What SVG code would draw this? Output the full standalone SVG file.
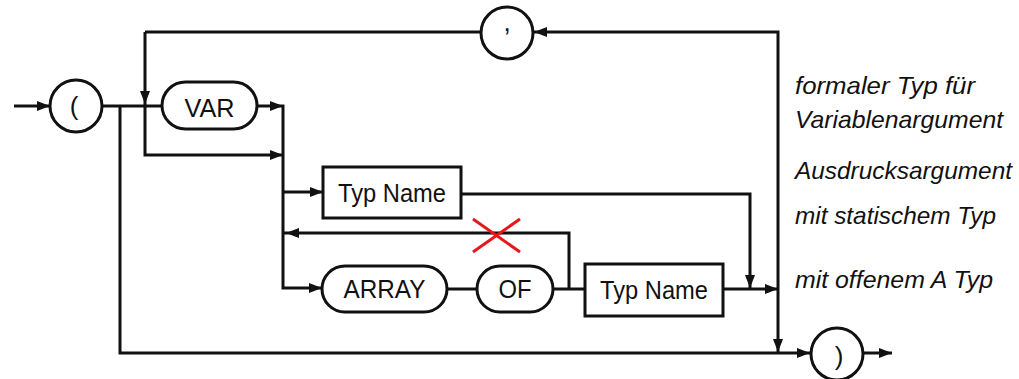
<svg xmlns="http://www.w3.org/2000/svg" xmlns:xlink="http://www.w3.org/1999/xlink" width="1019" height="379" viewBox="0 0 1019 379">
  <style>
    .ln { fill: none; stroke: #111; stroke-width: 3; }
    .shape { fill: #fff; stroke: #111; stroke-width: 3; }
    .lbl { font-family: "Liberation Sans", Arial, sans-serif; font-size: 26px; fill: #111; text-anchor: middle; }
    .sym { font-family: "Liberation Sans", Arial, sans-serif; font-size: 26px; fill: #111; text-anchor: middle; }
    .note { font-family: "Liberation Sans", Arial, sans-serif; font-style: italic; font-size: 24px; fill: #111; }
    .ah { fill: #111; }
    .cross { stroke: #e8161b; stroke-width: 3; fill: none; }
  </style>
  <defs>
    <!-- arrowhead pointing right, tip at origin -->
    <path id="ah" class="ah" d="M0,0 L-13,-5 L-13,5 Z"/>
  </defs>
  <rect width="1019" height="379" fill="#fff"/>

  <g id="connectors">
    <path class="ln" d="M14,106 H50"/>
    <path class="ln" d="M102,106 H162"/>
    <path class="ln" d="M120,106 V353 H810"/>
    <path class="ln" d="M257,106 H283 V288 H322"/>
    <path class="ln" d="M145,32 V155 H283"/>
    <path class="ln" d="M283,192 H323"/>
    <path class="ln" d="M461,194 H750 V288"/>
    <path class="ln" d="M447,289 H477"/>
    <path class="ln" d="M553,289 H585"/>
    <path class="ln" d="M569,289 V233 H283"/>
    <path class="ln" d="M723,289 H778"/>
    <path class="ln" d="M778,353 V32 H534"/>
    <path class="ln" d="M480,32 H145"/>
    <path class="ln" d="M863,353 H892"/>
    <use xlink:href="#ah" transform="translate(50,106)"/>
    <use xlink:href="#ah" transform="translate(145,104) rotate(90)"/>
    <use xlink:href="#ah" transform="translate(283,106)"/>
    <use xlink:href="#ah" transform="translate(283,155)"/>
    <use xlink:href="#ah" transform="translate(323,192)"/>
    <use xlink:href="#ah" transform="translate(286,233) rotate(180)"/>
    <use xlink:href="#ah" transform="translate(322,288)"/>
    <use xlink:href="#ah" transform="translate(750,288) rotate(90)"/>
    <use xlink:href="#ah" transform="translate(778,289)"/>
    <use xlink:href="#ah" transform="translate(534,32) rotate(180)"/>
    <use xlink:href="#ah" transform="translate(778,352) rotate(90)"/>
    <use xlink:href="#ah" transform="translate(810,353)"/>
    <use xlink:href="#ah" transform="translate(892,353)"/>
  </g>

  <g id="open-paren">
    <circle class="shape" cx="76" cy="106" r="26"/>
    <text class="sym" x="74" y="115">(</text>
  </g>
  <g id="comma">
    <circle class="shape" cx="507" cy="33" r="26"/>
    <text class="sym" x="507" y="31">,</text>
  </g>
  <g id="var">
    <rect class="shape" x="162" y="82" width="95" height="47" rx="23.5"/>
    <text class="lbl" x="209.5" y="117" textLength="50" lengthAdjust="spacingAndGlyphs">VAR</text>
  </g>
  <g id="typname1">
    <rect class="shape" x="323" y="167" width="138" height="51"/>
    <text class="lbl" x="392" y="202" textLength="108" lengthAdjust="spacingAndGlyphs">Typ Name</text>
  </g>
  <g id="array">
    <rect class="shape" x="322" y="266" width="125" height="46" rx="23"/>
    <text class="lbl" x="384.5" y="298" textLength="82" lengthAdjust="spacingAndGlyphs">ARRAY</text>
  </g>
  <g id="of">
    <rect class="shape" x="477" y="266" width="76" height="46" rx="23"/>
    <text class="lbl" x="515" y="298" textLength="33" lengthAdjust="spacingAndGlyphs">OF</text>
  </g>
  <g id="typname2">
    <rect class="shape" x="585" y="264" width="138" height="52"/>
    <text class="lbl" x="654" y="299" textLength="108" lengthAdjust="spacingAndGlyphs">Typ Name</text>
  </g>
  <g id="close-paren">
    <circle class="shape" cx="837" cy="354" r="26"/>
    <text class="sym" x="839" y="365">)</text>
  </g>

  <g id="cross">
    <line class="cross" x1="473" y1="219" x2="520" y2="252"/>
    <line class="cross" x1="520" y1="219" x2="473" y2="252"/>
  </g>

  <g id="notes">
    <text class="note" x="795" y="94" textLength="180" lengthAdjust="spacingAndGlyphs">formaler Typ für</text>
    <text class="note" x="795" y="128" textLength="208" lengthAdjust="spacingAndGlyphs">Variablenargument</text>
    <text class="note" x="795" y="179" textLength="217" lengthAdjust="spacingAndGlyphs">Ausdrucksargument</text>
    <text class="note" x="795" y="224" textLength="201" lengthAdjust="spacingAndGlyphs">mit statischem Typ</text>
    <text class="note" x="795" y="288" textLength="198" lengthAdjust="spacingAndGlyphs">mit offenem A Typ</text>
  </g>
</svg>
